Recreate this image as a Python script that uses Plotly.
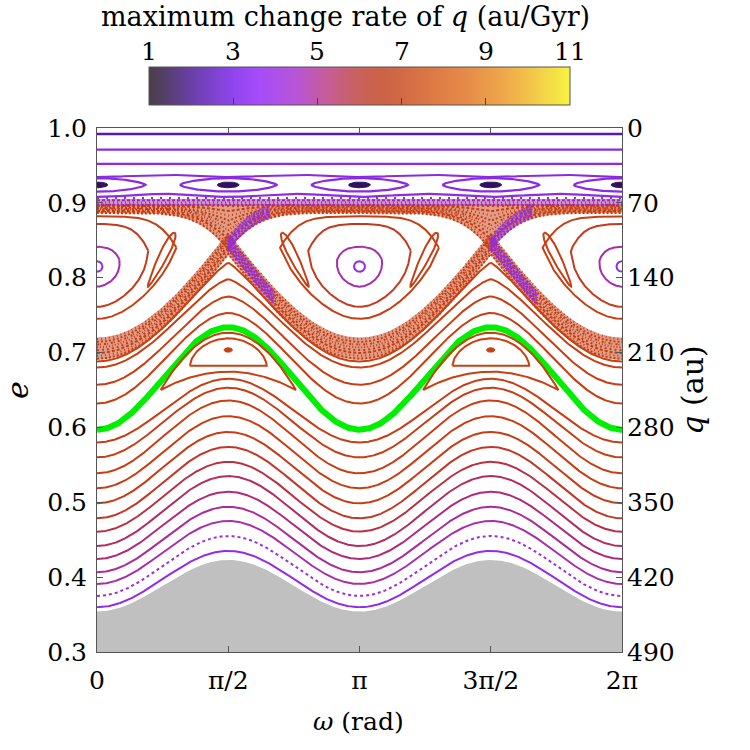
import numpy as np
import plotly.graph_objects as go

PI = np.pi

# ---------------- data ----------------
# rotational (circulating) curves: e at omega=0, e at omega=pi/2, peak sharpness, change rate
rot_e_min = [0.3598, 0.3749, 0.3909, 0.4065, 0.4243, 0.4416, 0.4608, 0.4786, 0.4986,
             0.5187, 0.5387, 0.5600, 0.5800, 0.6320, 0.6570, 0.6800, 0.6880]
rot_e_max = [0.4350, 0.4550, 0.4750, 0.4940, 0.5140, 0.5350, 0.5540, 0.5740, 0.5940,
             0.6150, 0.6360, 0.6530, 0.6650, 0.7530, 0.7750, 0.7980, 0.8200]
rot_sharp = [2.0, 2.0, 2.0, 2.0, 2.0, 2.0, 2.0, 2.0, 2.0,
             2.0, 2.0, 2.0, 2.0, 1.8, 1.6, 1.4, 1.2]
rot_rate = [3.6, 4.0, 4.6, 5.0, 5.4, 5.7, 6.0, 6.3, 6.5,
            6.6, 6.6, 6.6, 6.6, 6.6, 6.6, 6.6, 6.7]
rot_dotted = [False, True] + [False] * 15

# highlighted orbit (green)
green_e_min, green_e_max = 0.597, 0.734

# lower boundary of the allowed region (grey)
grey_e_min, grey_e_max = 0.354, 0.423

# near-circular top orbits: e, rate
top_e = [0.992, 0.971, 0.952, 0.936, 0.910]
top_rate = [1.9, 3.0, 3.2, 3.0, 3.3]
dot_row_e = 0.9065

# high-e island chain (centres every pi/2)
lens_e, lens_halfwidth, lens_top, lens_bottom, lens_rate = 0.924, 0.58, 0.933, 0.915, 3.0
core_halfwidth, core_halfheight, core_rate = 0.13, 0.0038, 1.2

# main libration islands about omega = 0, pi, 2pi
lib_centres = [0.0, PI, 2 * PI]
lib_e_centre = 0.815
ring_halfwidth = [0.066, 0.28, 0.63, 0.96]
ring_top = [0.822, 0.8414, 0.872, 0.882]
ring_bottom = [0.808, 0.788, 0.761, 0.745]
ring_corner = [0.0, 0.3, 0.6, 0.85]
ring_rate = [3.6, 4.6, 6.4, 6.6]

# separatrix geometry
sep_x_e = 0.846      # hyperbolic point e (omega = pi/2, 3pi/2)
sep_low_e = 0.706    # lowest point of lower separatrix (omega = 0, pi)
sep_top_e = 0.897    # upper separatrix far from X point
chaos_top_e = 0.905

# secondary islands (banana) about omega = pi/2, 3pi/2
ban_centres = [PI / 2, 3 * PI / 2]
ban_outer = dict(hw=0.81, end=0.650, top=0.7266, bottom=0.6745)
ban_inner = dict(hw=0.46, end=0.6825, top=0.719, bottom=0.6825)
ban_dot_e = 0.7035
ban_rate = 6.7

# thin secondary islands beside the libration zone
sliver_low = (0.61, 0.788)
sliver_high = (0.93, 0.860)
sliver_rate = 6.6

# colour bar
cbar_ticks = [1, 3, 5, 7, 9, 11]
x_tick_vals = [0, PI / 2, PI, 3 * PI / 2, 2 * PI]
x_tick_text = ["0", "π/2", "π", "3π/2", "2π"]
e_ticks = [0.3, 0.4, 0.5, 0.6, 0.7, 0.8, 0.9, 1.0]
q_ticks = [0, 70, 140, 210, 280, 350, 420, 490]
a_semimajor = 700.0

# ---------------- styles ----------------
cbar_scale = [
    [0.00, "#4a3f45"], [0.10, "#6a3fa8"], [0.20, "#8f45ee"], [0.26, "#a64cfa"],
    [0.35, "#b855d6"], [0.42, "#c65c9a"], [0.50, "#c9625a"], [0.56, "#cb6344"],
    [0.65, "#da7444"], [0.75, "#e58a48"], [0.85, "#efaa4a"], [0.93, "#f3d048"],
    [1.00, "#f8f442"],
]
curve_stops = [(1.0, (40, 14, 70)), (2.0, (92, 26, 190)), (3.0, (138, 43, 226)),
               (3.6, (146, 44, 232)), (4.0, (156, 46, 214)), (4.6, (166, 46, 170)),
               (5.0, (170, 44, 150)), (5.4, (174, 42, 122)), (5.7, (178, 44, 96)),
               (6.0, (184, 48, 66)), (6.3, (192, 56, 40)), (6.5, (198, 60, 22)),
               (6.7, (200, 64, 16)), (7.5, (210, 80, 20))]
FONT = "DejaVu Serif"
PX_PER_RAD = 525 / (2 * PI)
PX_PER_E = 524 / 0.7


def curve_color(r, alpha=1.0):
    xs = [s[0] for s in curve_stops]
    rgb = [int(round(np.interp(r, xs, [s[1][k] for s in curve_stops]))) for k in range(3)]
    return "rgba(%d,%d,%d,%.2f)" % (rgb[0], rgb[1], rgb[2], alpha)


W = np.linspace(0, 2 * PI, 1441)
fig = go.Figure()


def add_line(x, y, color, width=2.0, dash=None, fill=None, fillcolor=None):
    fig.add_trace(go.Scatter(x=x, y=y, mode="lines", hoverinfo="skip", showlegend=False,
                             line=dict(color=color, width=width, dash=dash),
                             fill=fill, fillcolor=fillcolor))


def add_poly(x, y, fillcolor):
    fig.add_trace(go.Scatter(x=x, y=y, mode="lines", hoverinfo="skip", showlegend=False,
                             line=dict(width=0), fill="toself", fillcolor=fillcolor))


DASHES = ["2px,2px", "1px,3px", "3px,2px", "2px,3px", "1px,2px", "2px,1px,1px,3px"]


def speckle_band(w, lo, hi, color, n, fill_alpha=0.5):
    rgb = color
    add_poly(np.concatenate([w, w[::-1]]), np.concatenate([lo, hi[::-1]]),
             "rgba(%d,%d,%d,%.2f)" % (rgb[0], rgb[1], rgb[2], fill_alpha))
    for k in range(n):
        t = (k + 0.5) / n
        add_line(w, lo + t * (hi - lo), "rgba(%d,%d,%d,1)" % rgb, width=2.0,
                 dash=DASHES[k % len(DASHES)])


def e_low_sep(w):
    return sep_low_e + (sep_x_e - sep_low_e) * (1 - np.abs(np.cos(w)))


def e_up_sep(w):
    return sep_x_e + (sep_top_e - sep_x_e) * (1 - (1 - np.abs(np.cos(w))) ** 3)


# grey forbidden region
g_top = grey_e_min + (grey_e_max - grey_e_min) * np.sin(W) ** 2
add_poly(np.concatenate([W, W[::-1]]), np.concatenate([g_top, np.full_like(W, 0.29)]), "#c0c0c0")

# chaotic layers
RED = (196, 60, 16)
PUR = (145, 45, 220)
MAG = (160, 42, 170)
speckle_band(W, e_up_sep(W) - 0.011, np.full_like(W, 0.898), RED, 10)
speckle_band(W, np.full_like(W, 0.896), np.full_like(W, chaos_top_e), MAG, 3)
lo_c = e_low_sep(W)
speckle_band(W, lo_c - 0.016, lo_c + 0.014, RED, 8)
for xc in [PI / 2, 3 * PI / 2]:
    ww = np.linspace(xc, xc + 0.55, 80)
    speckle_band(ww, e_low_sep(ww) - 0.010, e_low_sep(ww) + 0.010, PUR, 5, 0.4)
    ww = np.linspace(xc, xc + 0.5, 80)
    speckle_band(ww, e_up_sep(ww) - 0.010, e_up_sep(ww) + 0.008, PUR, 5, 0.4)

# circulating curves
for e0, e1, a, r, dot in zip(rot_e_min, rot_e_max, rot_sharp, rot_rate, rot_dotted):
    f = 1 - np.abs(np.cos(W)) ** a
    add_line(W, e0 + (e1 - e0) * f, curve_color(r), width=2.0, dash="dot" if dot else None)

# green orbit
add_line(W, green_e_min + (green_e_max - green_e_min) * np.sin(W) ** 2, "#00ee00", width=6)

# top near-horizontal orbits
for k, (e, r) in enumerate(zip(top_e, top_rate)):
    if k == 3:
        y = e - 0.0015 * np.cos(4 * W)
    elif k == 4:
        y = e - 0.002 * np.cos(4 * W)
    else:
        y = np.full_like(W, e)
    add_line(W, y, curve_color(r), width=2.6 if k == 0 else 2.2)
add_line(W, np.full_like(W, dot_row_e), curve_color(3.4), width=2.0, dash="2px,7px")

# island chain at high e
for k in range(5):
    c = k * PI / 2
    u = np.linspace(-1, 1, 121)
    top = lens_e + (lens_top - lens_e) * (1 - u ** 2) ** 0.7
    bot = lens_e - (lens_e - lens_bottom) * (1 - u ** 2) ** 0.7
    add_line(np.concatenate([c + u * lens_halfwidth, c - u * lens_halfwidth]),
             np.concatenate([top, bot]), curve_color(lens_rate), width=2.2)
    t = np.linspace(0, 2 * PI, 60)
    add_line(c + core_halfwidth * np.cos(t), lens_e + core_halfheight * np.sin(t),
             curve_color(core_rate), width=1, fill="toself", fillcolor=curve_color(core_rate))

# libration rings
E_TOP_N = sep_top_e - lib_e_centre
E_BOT_N = lib_e_centre - sep_low_e
for c in lib_centres:
    wu = np.linspace(c + PI / 2, c - PI / 2, 241)
    wl = np.linspace(c - PI / 2, c + PI / 2, 241)[1:]
    bw = np.concatenate([wu, wl])
    be = np.concatenate([e_up_sep(wu), e_low_sep(wl)])
    dx = (bw - c) / (PI / 2)
    dy = np.where(be >= lib_e_centre, (be - lib_e_centre) / E_TOP_N, (be - lib_e_centre) / E_BOT_N)
    th = np.arctan2(dy, dx)
    for hw, et, eb, beta, r in zip(ring_halfwidth, ring_top, ring_bottom, ring_corner, ring_rate):
        px = (1 - beta) * np.cos(th) + beta * dx
        py = (1 - beta) * np.sin(th) + beta * dy
        xx = c + px * hw
        yy = np.where(py >= 0, lib_e_centre + py * (et - lib_e_centre), lib_e_centre + py * (lib_e_centre - eb))
        add_line(np.append(xx, xx[0]), np.append(yy, yy[0]), curve_color(r), width=2.0)
    # thin side islands
    for s in (1, -1):
        p1 = np.array([(c + s * sliver_low[0]) * PX_PER_RAD, sliver_low[1] * PX_PER_E])
        p2 = np.array([(c + s * sliver_high[0]) * PX_PER_RAD, sliver_high[1] * PX_PER_E])
        mid = (p1 + p2) / 2
        d = (p2 - p1) / 2
        L = np.hypot(*d)
        uvec = d / L
        nvec = np.array([-uvec[1], uvec[0]])
        t = np.linspace(0, 2 * PI, 80)
        pts = mid[:, None] + np.outer(uvec, L * np.cos(t)) + np.outer(nvec, 4.0 * np.sin(t) * (1 + 0.4 * np.cos(t)))
        add_line(pts[0] / PX_PER_RAD, pts[1] / PX_PER_E, curve_color(sliver_rate), width=2.0)

# banana islands
for c in ban_centres:
    for b in (ban_outer, ban_inner):
        u = np.linspace(-1, 1, 121)
        if b is ban_outer:
            top = b["end"] + (b["top"] - b["end"]) * (1 - u ** 2)
        else:
            top = b["end"] + (b["top"] - b["end"]) * (1 - u ** 2) ** 0.6
        bot = b["end"] + (b["bottom"] - b["end"]) * (1 - u ** 2)
        add_line(np.concatenate([c + u * b["hw"], c - u * b["hw"]]),
                 np.concatenate([top, bot[::-1]]), curve_color(ban_rate), width=2.0)
    t = np.linspace(0, 2 * PI, 40)
    add_line(c + 0.05 * np.cos(t), ban_dot_e + 0.003 * np.sin(t), curve_color(ban_rate), width=1,
             fill="toself", fillcolor=curve_color(ban_rate))

# white gap above grey region
add_line(W, g_top + 0.0025, "white", width=2.5)

# colour bar carrier
CB_LEFT, CB_RIGHT, CB_TOP, CB_BOTTOM = 149, 570, 75, 113
fig.add_trace(go.Scatter(
    x=[-10], y=[-10], mode="markers", hoverinfo="skip", showlegend=False,
    marker=dict(color=[1], cmin=cbar_ticks[0], cmax=cbar_ticks[-1], colorscale=cbar_scale,
                showscale=True,
                colorbar=dict(orientation="h", x=((CB_LEFT + CB_RIGHT) / 2 - 97) / 525, xanchor="center",
                              y=1 + (128 - CB_BOTTOM) / 524, yanchor="bottom", xpad=0, ypad=0,
                              lenmode="pixels", len=CB_RIGHT - CB_LEFT, thicknessmode="pixels",
                              thickness=CB_BOTTOM - CB_TOP,
                              outlinecolor="#555", outlinewidth=1,
                              tickvals=cbar_ticks, ticks="inside", ticklen=7, tickcolor="#444",
                              showticklabels=False))))

annotations = []
for v in cbar_ticks:
    xp = CB_LEFT + (v - cbar_ticks[0]) / (cbar_ticks[-1] - cbar_ticks[0]) * (CB_RIGHT - CB_LEFT)
    annotations.append(dict(text=str(v), x=(xp - 97) / 525, y=1 + (128 - 51) / 524, xref="paper", yref="paper",
                            showarrow=False, xanchor="center", yanchor="middle", font=dict(size=25)))
annotations.append(dict(text="maximum change rate of <i>q</i> (au/Gyr)", x=(345 - 97) / 525,
                        y=1 + (128 - 17) / 524, xref="paper", yref="paper", showarrow=False,
                        xanchor="center", yanchor="middle", font=dict(size=27)))
annotations.append(dict(text="<i>ω</i> (rad)", x=(358 - 97) / 525, y=(652 - 721) / 524,
                        xref="paper", yref="paper", showarrow=False,
                        xanchor="center", yanchor="middle", font=dict(size=25)))

shapes = []
for v in cbar_ticks[1:-1]:
    xp = CB_LEFT + (v - cbar_ticks[0]) / (cbar_ticks[-1] - cbar_ticks[0]) * (CB_RIGHT - CB_LEFT)
    shapes.append(dict(type="line", xref="paper", yref="paper", x0=(xp - 97) / 525, x1=(xp - 97) / 525,
                       y0=1 + (128 - CB_TOP) / 524, y1=1 + (128 - CB_TOP - 7) / 524,
                       line=dict(color="#444", width=1)))

# right-axis carrier
fig.add_trace(go.Scatter(x=[-10], y=[-10], yaxis="y2", mode="markers", hoverinfo="skip",
                         showlegend=False))

fig.update_layout(
    width=750, height=750, margin=dict(l=97, r=128, t=128, b=98, autoexpand=False),
    paper_bgcolor="white", plot_bgcolor="white",
    font=dict(family=FONT, size=25, color="black"),
    annotations=annotations, shapes=shapes,
    xaxis=dict(range=[0, 2 * PI], tickvals=x_tick_vals, ticktext=x_tick_text,
               ticks="inside", ticklen=6, tickcolor="#555", showline=True, linecolor="#555",
               mirror="ticks", showgrid=False, zeroline=False, ticklabelstandoff=6),
    yaxis=dict(range=[0.3, 1.0], tickvals=e_ticks, ticktext=["%.1f" % v for v in e_ticks],
               ticks="inside", ticklen=6, tickcolor="#555", showline=True, linecolor="#555",
               mirror=True, showgrid=False, zeroline=False, ticklabelstandoff=4,
               title=dict(text="<i>e</i>", standoff=14)),
    yaxis2=dict(overlaying="y", side="right", range=[a_semimajor * 0.7, 0],
                tickvals=q_ticks, ticks="inside", ticklen=6, tickcolor="#555",
                showline=False, showgrid=False, zeroline=False, ticklabelstandoff=4,
                title=dict(text="<i>q</i> (au)", standoff=20)),
)

fig.write_html("out.html")
